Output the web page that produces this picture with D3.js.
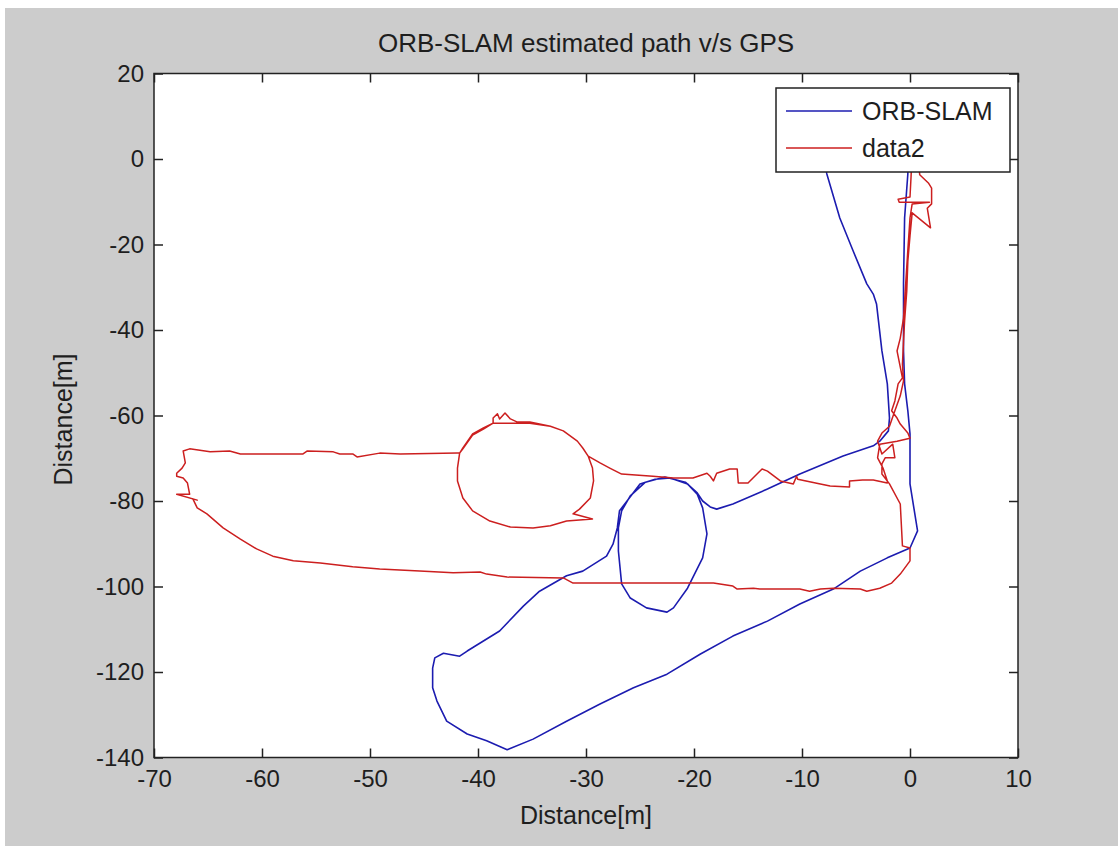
<!DOCTYPE html>
<html><head><meta charset="utf-8">
<script src="https://cdn.jsdelivr.net/npm/d3@7"></script>
<style>
html,body{margin:0;padding:0;background:#fff;}
svg{display:block;}
text{font-family:"Liberation Sans",Arial,sans-serif;fill:#1e1e1e;}
</style></head>
<body>
<script>
const title = "ORB-SLAM estimated path v/s GPS";
const xLabel = "Distance[m]";
const yLabel = "Distance[m]";
const seriesNames = ["ORB-SLAM", "data2"];
const xTicks = [-70,-60,-50,-40,-30,-20,-10,0,10];
const yTicks = [-140,-120,-100,-80,-60,-40,-20,0,20];

const orbX = [-0.2,-0.2,-0.5,-0.6,-0.6,-0.5,-0.2,0.0,0.0,0.7,0.0,-2.1,-4.6,-7.1,-10.2,-13.2,-16.4,-19.4,-22.5,-25.6,-28.7,-31.8,-34.9,-37.3,-39.2,-41.0,-42.9,-43.8,-44.2,-44.2,-44.0,-43.2,-41.7,-41.0,-38.0,-35.8,-34.3,-31.8,-30.3,-28.1,-27.5,-27.1,-26.9,-26.2,-25.0,-23.6,-22.2,-20.6,-19.7,-19.2,-18.8,-19.2,-20.6,-21.9,-22.5,-24.4,-25.9,-26.7,-27.0,-27.0,-26.7,-25.9,-24.5,-22.7,-20.8,-19.7,-19.2,-18.5,-17.9,-16.4,-13.2,-10.2,-6.2,-3.4,-2.8,-2.0,-1.9,-2.1,-2.6,-3.1,-3.4,-4.0,-5.3,-6.5,-7.7,-8.1];
const orbY = [1.9,-3.5,-13.8,-29.2,-44.9,-52.6,-58.9,-64.3,-76.0,-87.0,-91.0,-93.3,-96.4,-100.6,-104.1,-108.1,-111.6,-115.8,-120.5,-123.7,-127.5,-131.5,-135.7,-138.2,-136.1,-134.5,-131.5,-126.8,-123.7,-119.1,-116.7,-115.6,-116.3,-115.1,-110.4,-104.6,-101.1,-97.5,-96.4,-92.9,-90.1,-86.3,-82.3,-80.0,-76.0,-74.9,-74.6,-76.0,-78.4,-81.6,-87.7,-93.3,-100.4,-105.0,-106.0,-105.0,-102.7,-99.4,-91.7,-86.3,-82.3,-78.8,-75.6,-74.4,-75.6,-78.1,-80.0,-81.4,-81.9,-80.7,-77.2,-73.7,-69.5,-67.1,-66.0,-63.6,-60.6,-52.6,-44.9,-33.9,-31.6,-29.2,-21.3,-13.8,-3.5,1.9];

const gpsX = [0.2,0.1,0.0,-1.1,-1.0,1.8,0.2,0.0,-0.2,-0.4,-0.6,-0.9,-1.2,-0.7,-1.1,-1.4,-1.7,-1.2,-0.9,-0.2,0.0,-1.2,-2.8,-3.0,-2.5,-2.1,-2.1,
 -3.4,-4.4,-5.6,-5.6,-7.4,-8.3,-10.4,-10.5,-10.8,-12.0,-13.2,-13.7,-15.0,-15.9,-16.0,-16.7,-17.9,-18.2,-18.5,-18.8,-20.1,-20.6,-21.9,-23.8,-26.7,-27.8,-28.7,-29.8,
 -30.3,-30.8,-32.1,-33.3,-35.2,-36.4,-37.0,-37.5,-38.0,-38.2,-38.6,-38.6,-39.5,-40.5,-41.4,-41.7,-41.9,-41.9,-41.4,-40.5,-38.9,-37.0,-34.9,-33.3,-31.8,-29.4,-31.2,-30.6,-29.6,-29.3,-29.4,-29.8,
 -30.3,-30.8,-32.1,-33.3,-35.2,-36.4,-38.6,-39.5,-40.5,-41.4,-41.7,
 -41.9,-47.2,-49.1,-51.2,-51.6,-52.8,-53.4,-55.8,-56.2,-57.1,-57.7,-62.0,-63.0,-64.8,-66.7,-67.3,
 -67.1,-67.4,-67.9,-67.9,-67.3,-66.9,-66.7,-67.9,-66.0,-66.4,-66.0,-65.1,-63.6,-62.0,-60.5,-59.0,-57.1,-54.6,-51.6,-49.1,-45.4,-42.3,-39.8,-39.2,-37.3,-32.1,-31.2,-25.0,-18.2,-17.6,-16.4,-16.0,-14.5,-13.9,-10.2,-9.3,-8.3,-7.1,-4.6,-4.0,-2.8,-1.7,-0.9,0.0,0.0,-0.7,-0.9,-1.9,
 -2.6,-2.6,-2.3,-1.4,-1.6,-2.6,-3.0,-2.6,-1.9,-1.4,-0.9,-0.6,-0.7,-0.6,-0.5,-0.3,-0.2,0.0,0.2,1.9,1.6,2.0,2.0,1.7,0.9,0.7];
const gpsY = [1.9,-4.0,-8.9,-9.4,-10.1,-10.1,-10.5,-13.8,-21.3,-29.2,-37.2,-41.9,-44.9,-51.2,-52.6,-56.6,-58.9,-60.6,-62.0,-64.1,-65.3,-66.0,-66.7,-69.9,-72.3,-75.3,-75.8,
 -75.1,-75.1,-75.3,-76.7,-76.5,-76.0,-74.9,-74.2,-76.0,-75.3,-73.0,-72.5,-75.8,-75.8,-72.5,-72.5,-73.5,-75.3,-74.2,-73.5,-74.6,-74.6,-74.6,-74.2,-73.7,-72.3,-71.1,-69.5,
 -67.6,-66.0,-63.6,-62.5,-61.5,-61.5,-60.8,-59.4,-60.8,-59.6,-60.6,-61.8,-62.9,-64.3,-67.6,-68.8,-72.3,-75.3,-79.3,-82.3,-84.7,-86.1,-86.3,-85.8,-84.7,-84.2,-83.0,-81.9,-79.3,-75.3,-72.3,-69.5,
 -67.6,-66.0,-63.6,-62.5,-61.8,-61.8,-61.8,-63.2,-64.6,-67.8,-68.8,
 -68.8,-69.0,-68.8,-69.7,-69.0,-69.0,-68.5,-68.3,-69.0,-69.0,-69.0,-69.0,-68.3,-68.5,-67.8,-68.3,
 -71.1,-72.3,-73.5,-74.2,-74.6,-75.8,-78.4,-78.4,-79.8,-79.5,-81.6,-83.0,-86.3,-88.9,-91.2,-92.9,-94.0,-94.5,-95.4,-95.9,-96.4,-96.8,-96.6,-97.1,-97.8,-98.0,-99.2,-99.2,-99.2,-99.4,-99.9,-100.6,-100.4,-100.6,-100.6,-101.1,-100.6,-100.4,-100.6,-101.1,-100.4,-99.2,-97.1,-94.0,-91.0,-90.5,-80.7,-76.0,
 -73.7,-71.3,-69.9,-69.9,-66.7,-69.0,-66.0,-64.1,-62.5,-58.9,-55.4,-51.9,-48.0,-42.6,-37.9,-30.9,-23.9,-18.0,-12.6,-16.1,-11.5,-10.5,-6.8,-5.6,-3.7,1.9];

const colors = ["#1c1cb0", "#cc1f1f"];

const W = 1118, H = 846;
const svg = d3.select("body").append("svg").attr("width", W).attr("height", H);
svg.append("rect").attr("x",0).attr("y",0).attr("width",W).attr("height",H).attr("fill","#fff");
svg.append("rect").attr("x",5).attr("y",8).attr("width",W-5).attr("height",H-8).attr("fill","#cccccc");

const L = 154, R = 1018, T = 73.5, B = 757.5;
const x = d3.scaleLinear().domain([-70,10]).range([L,R]);
const y = d3.scaleLinear().domain([-140,20]).range([B,T]);

svg.append("rect").attr("x",L).attr("y",T).attr("width",R-L).attr("height",B-T).attr("fill","#fff");

svg.append("defs").append("clipPath").attr("id","clip").append("rect")
  .attr("x",L).attr("y",T).attr("width",R-L).attr("height",B-T);

const line = d3.line().x(d=>x(d[0])).y(d=>y(d[1]));
const orb = orbX.map((v,i)=>[v,orbY[i]]);
const gps = gpsX.map((v,i)=>[v,gpsY[i]]);
const g = svg.append("g").attr("clip-path","url(#clip)");
g.append("path").datum(orb).attr("d",line).attr("fill","none").attr("stroke",colors[0]).attr("stroke-width",1.6).attr("stroke-linejoin","round");
g.append("path").datum(gps).attr("d",line).attr("fill","none").attr("stroke",colors[1]).attr("stroke-width",1.5).attr("stroke-linejoin","round");

const fs = 24;
const fmt = d => String(d);
function styleAxis(sel){
  sel.select(".domain").remove();
  sel.selectAll(".tick line").attr("stroke","#222").attr("stroke-width",1.5);
  sel.selectAll("text").attr("font-size",fs).attr("fill","#1e1e1e").attr("font-family","Liberation Sans, Arial, sans-serif");
}
svg.append("g").attr("transform",`translate(0,${B})`)
  .call(d3.axisBottom(x).tickValues(xTicks).tickFormat(fmt).tickSizeInner(-9).tickSizeOuter(0).tickPadding(12)).call(styleAxis);
svg.append("g").attr("transform",`translate(0,${T})`)
  .call(d3.axisTop(x).tickValues(xTicks).tickSizeInner(-9).tickSizeOuter(0).tickFormat("")).call(styleAxis);
svg.append("g").attr("transform",`translate(${L},0)`)
  .call(d3.axisLeft(y).tickValues(yTicks).tickFormat(fmt).tickSizeInner(-9).tickSizeOuter(0).tickPadding(10)).call(styleAxis);
svg.append("g").attr("transform",`translate(${R},0)`)
  .call(d3.axisRight(y).tickValues(yTicks).tickSizeInner(-9).tickSizeOuter(0).tickFormat("")).call(styleAxis);

svg.append("rect").attr("x",L).attr("y",T).attr("width",R-L).attr("height",B-T)
  .attr("fill","none").attr("stroke","#222").attr("stroke-width",1.5);

svg.append("text").attr("x",(L+R)/2).attr("y",52).attr("text-anchor","middle").attr("font-size",26).text(title);
svg.append("text").attr("x",(L+R)/2).attr("y",824).attr("text-anchor","middle").attr("font-size",25).text(xLabel);
svg.append("text").attr("transform",`translate(72,${(T+B)/2+4}) rotate(-90)`).attr("text-anchor","middle").attr("font-size",25).text(yLabel);

// legend
const lg = svg.append("g");
lg.append("rect").attr("x",776).attr("y",88).attr("width",234).attr("height",84)
  .attr("fill","#fff").attr("stroke","#222").attr("stroke-width",1.5);
seriesNames.forEach((n,i)=>{
  const yy = 111 + i*37;
  lg.append("line").attr("x1",786).attr("x2",852).attr("y1",yy).attr("y2",yy).attr("stroke",colors[i]).attr("stroke-width",1.6);
  lg.append("text").attr("x",862).attr("y",yy).attr("dy","0.35em").attr("font-size",25).text(n);
});
</script>
</body></html>
